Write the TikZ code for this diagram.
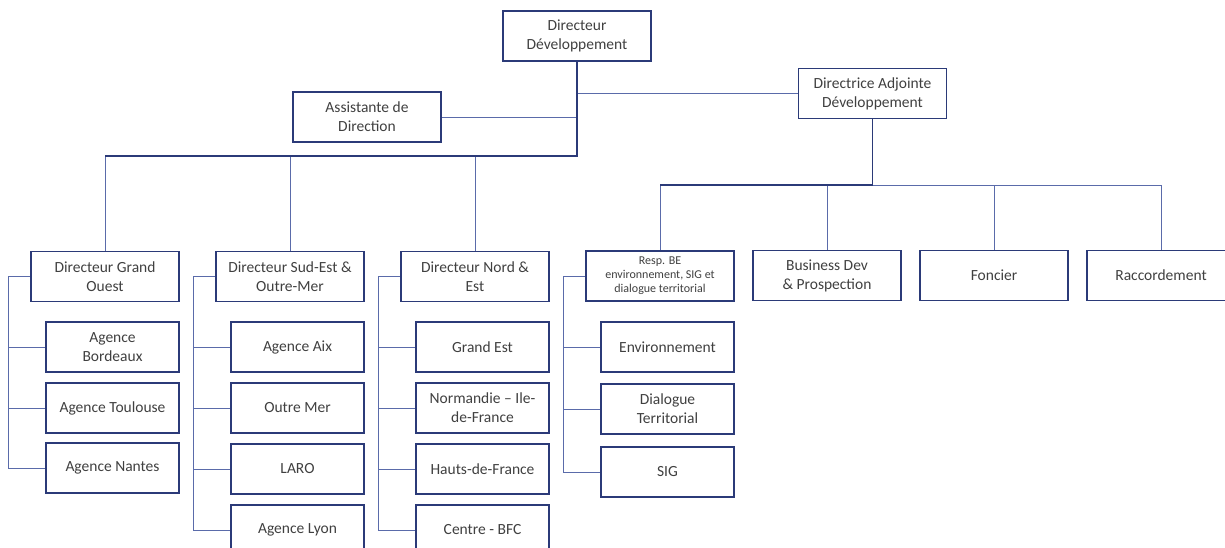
\documentclass[tikz,border=0pt]{standalone}
\usepackage{fontspec}
\setmainfont{Carlito}
\definecolor{boxline}{HTML}{2B3A78}
\definecolor{conline}{HTML}{5A6BAA}
\definecolor{txt}{HTML}{404040}
\begin{document}
\begin{tikzpicture}[x=1pt,y=-1pt,
  box/.style={draw=boxline,line width=1.6pt,minimum width=148pt,minimum height=50pt,inner sep=2pt,
    align=center,text=txt,font=\fontsize{15.5}{19}\selectfont},
  kid/.style={box,minimum width=133pt},
  small/.style={font=\fontsize{12}{14}\selectfont},
  conn/.style={draw=conline,line width=0.9pt},
  trunk/.style={draw=boxline,line width=1.5pt}]
\clip (0,0) rectangle (1225,548);
\fill[white] (0,0) rectangle (1225,548);
% top level
\node[box] (dd) at (577,36) {Directeur\\Développement};
\node[box] (da) at (872.5,93.5) {Directrice Adjointe\\Développement};
\node[box] (ad) at (367,117) {Assistante de\\Direction};
% directors row
\node[box] (dgo) at (105,276.5) {Directeur Grand\\Ouest};
\node[box] (dse) at (290,276.5) {Directeur Sud-Est \&\\Outre-Mer};
\node[box] (dne) at (475,276.5) {Directeur Nord \&\\Est};
\node[box,small] (resp) at (660,276) {Resp. BE\\environnement, SIG et\\dialogue territorial};
\node[box] (bd) at (827,275.5) {Business Dev\\\& Prospection};
\node[box] (fo) at (994,275.5) {Foncier};
\node[box] (ra) at (1161,275.5) {Raccordement};
% Grand Ouest children
\node[kid] (bor) at (112.5,347) {Agence\\Bordeaux};
\node[kid] (tou) at (112.5,408) {Agence Toulouse};
\node[kid] (nan) at (112.5,468) {Agence Nantes};
% Sud-Est children
\node[kid] (aix) at (297.5,347) {Agence Aix};
\node[kid] (om) at (297.5,408) {Outre Mer};
\node[kid] (laro) at (297.5,469) {LARO};
\node[kid] (lyon) at (297.5,530) {Agence Lyon};
% Nord children
\node[kid] (ge) at (482.5,347) {Grand Est};
\node[kid] (nor) at (482.5,408) {Normandie – Ile-\\de-France};
\node[kid] (hdf) at (482.5,469) {Hauts-de-France};
\node[kid] (cen) at (482.5,530) {Centre - BFC};
% Resp children
\node[kid] (env) at (667.5,347) {Environnement};
\node[kid] (dia) at (667.5,409) {Dialogue\\Territorial};
\node[kid] (sig) at (667.5,472) {SIG};
% connectors top
\coordinate (j1) at (577,156);
\coordinate (j2) at (872.5,185);
\draw[conn] (ad.east) -- (ad.east -| dd.south);
\draw[conn] (da.west) -- (da.west -| dd.south);
\draw[conn] (j1) -| (dgo.north);
\draw[conn] (j1) -| (dse.north);
\draw[conn] (j1) -| (dne.north);
\draw[trunk] (dd.south) -- (j1) -- (j1 -| dgo.north);
\draw[conn] (j2) -| (resp.north);
\draw[conn] (j2) -| (bd.north);
\draw[conn] (j2) -| (fo.north);
\draw[conn] (j2) -| (ra.north);
\draw[trunk] (da.south) -- (j2) -- (j2 -| resp.north);
% side buses
\coordinate (b1) at (8,0);
\coordinate (b2) at (193,0);
\coordinate (b3) at (378,0);
\coordinate (b4) at (563,0);
\draw[conn] (dgo.west) -| (nan.west -| b1) -- (nan.west);
\draw[conn] (bor.west) -- (bor.west -| b1);
\draw[conn] (tou.west) -- (tou.west -| b1);
\draw[conn] (dse.west) -| (lyon.west -| b2) -- (lyon.west);
\draw[conn] (aix.west) -- (aix.west -| b2);
\draw[conn] (om.west) -- (om.west -| b2);
\draw[conn] (laro.west) -- (laro.west -| b2);
\draw[conn] (dne.west) -| (cen.west -| b3) -- (cen.west);
\draw[conn] (ge.west) -- (ge.west -| b3);
\draw[conn] (nor.west) -- (nor.west -| b3);
\draw[conn] (hdf.west) -- (hdf.west -| b3);
\draw[conn] (resp.west) -| (sig.west -| b4) -- (sig.west);
\draw[conn] (env.west) -- (env.west -| b4);
\draw[conn] (dia.west) -- (dia.west -| b4);
\end{tikzpicture}
\end{document}
